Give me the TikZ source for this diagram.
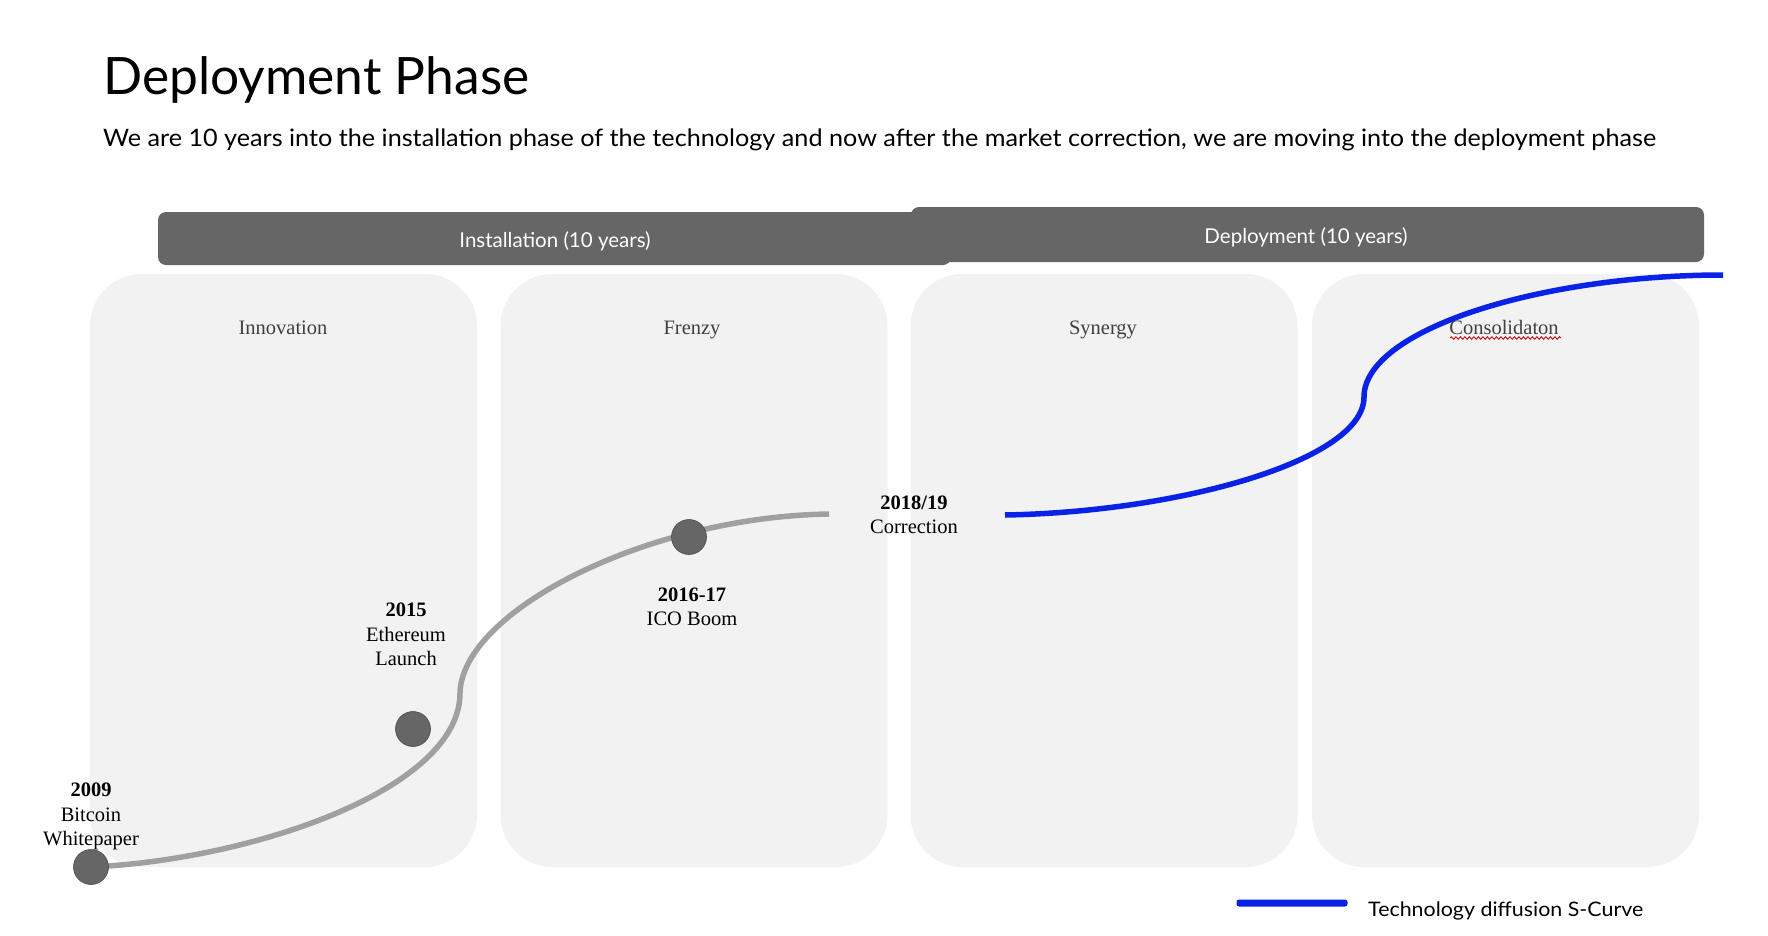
\documentclass[tikz,border=0pt]{standalone}
\usepackage{fontspec}
\setmainfont{Liberation Serif}
\newfontfamily\avenir{Lato}
\newfontfamily\avenirsub[FakeStretch=1.05]{Lato}
\newfontfamily\avenirleg[FakeStretch=1.07]{Lato}
\usetikzlibrary{decorations.pathmorphing}
\definecolor{bargray}{HTML}{666666}
\definecolor{panelgray}{HTML}{F2F2F2}
\definecolor{curvegray}{HTML}{A0A0A0}
\definecolor{dotgray}{HTML}{666666}
\definecolor{sblue}{HTML}{0A22E6}
\definecolor{labelgray}{HTML}{404040}
\newcommand\fsz[2]{\fontsize{#1}{#2}\selectfont}
\tikzset{
  panel/.style={fill=panelgray, draw=none, rounded corners=52, minimum width=387, minimum height=593, inner sep=0},
  phasebar/.style={fill=bargray, draw=none, rounded corners=8, minimum width=793, inner sep=0},
  bartext/.style={anchor=base, inner sep=0, text=white, font=\avenir\fsz{20.5}{24}},
  panellabel/.style={anchor=base, text=labelgray, inner sep=0, font=\fsz{20.5}{24}},
  datelabel/.style={text=black, inner sep=0, align=center, font=\fsz{20.5}{24.5}},
  eventdot/.style={circle, fill=dotgray, draw=black!70, line width=0.6, minimum size=35, inner sep=0},
  graycurve/.style={draw=curvegray, line width=5.5},
  bluecurve/.style={draw=sblue, line width=5.5},
}
\begin{document}
\begin{tikzpicture}[x=1pt,y=-1pt]
\useasboundingbox (0,0) rectangle (1768,936);
\fill[white] (0,0) rectangle (1768,936);

% title
\node[anchor=base west, inner sep=0, font=\avenir\fsz{51.5}{60}] (title) at (103,95) {Deployment Phase};
\node[anchor=base west, inner sep=0, font=\avenirsub\fsz{24}{28}] (subtitle) at (103,147) {We are 10 years into the installation phase of the technology and now after the market correction, we are moving into the deployment phase};

% panels
\node[panel] (innov) at (283.5,570.5) {};
\node[panel] (frenzy) at (694,570.5) {};
\node[panel] (synergy) at (1104,570.5) {};
\node[panel] (consol) at (1505.5,570.5) {};

% phase bars
\node[phasebar, minimum height=53] (install) at (554.5,238.5) {};
\node[bartext] (installtext) at (555,247) {Installation (10 years)};
\node[phasebar, minimum height=55] (deploy) at (1307.5,234.5) {};
\node[bartext] (deploytext) at (1306,243) {Deployment (10 years)};

% panel labels
\node[panellabel] (linnov) at (283,334) {Innovation};
\node[panellabel] (lfrenzy) at (692,334) {Frenzy};
\node[panellabel] (lsynergy) at (1103,334) {Synergy};

% curves
\coordinate (gmid) at (460,693);
\coordinate (gend) at (829,514);
\coordinate (bstart) at (1005,515);
\coordinate (bmid) at (1364,397);
\coordinate (bend) at (1723,275);
\coordinate (btc) at (91,867);
\path[graycurve] (btc) .. controls (250,860) and (460,790) .. (gmid)
  .. controls (462,612) and (645,517) .. (gend);
\path[bluecurve] (bstart) .. controls (1180,512) and (1364,460) .. (bmid)
  .. controls (1364,330) and (1540,275) .. (bend);

\node[panellabel] (lconsol) at (1504,334) {Consolidaton};
\draw[red!75!black, line width=0.8, decorate, decoration={snake, amplitude=1.3, segment length=4.5}] (1450,338) -- (1561,338);

% dots
\node[eventdot] (dbtc) at (btc) {};
\node[eventdot] (deth) at (413,729) {};
\node[eventdot] (dico) at (689,537) {};

% date labels
\node[datelabel] (tbtc) at (91,816.5) {\textbf{2009}\\Bitcoin\\Whitepaper};
\node[datelabel] (teth) at (406,634.5) {\textbf{2015}\\Ethereum\\Launch};
\node[datelabel] (tico) at (692,607) {\textbf{2016-17}\\ICO Boom};
\node[datelabel] (tcor) at (914,515) {\textbf{2018/19}\\Correction};

% legend
\node[fill=sblue, rounded corners=2.5, minimum width=111, minimum height=7, inner sep=0] (legline) at (1292,903) {};
\node[anchor=west, inner sep=0, font=\avenirleg\fsz{20}{23}] (legtext) at (1368,911) {Technology diffusion S-Curve};
\end{tikzpicture}
\end{document}
